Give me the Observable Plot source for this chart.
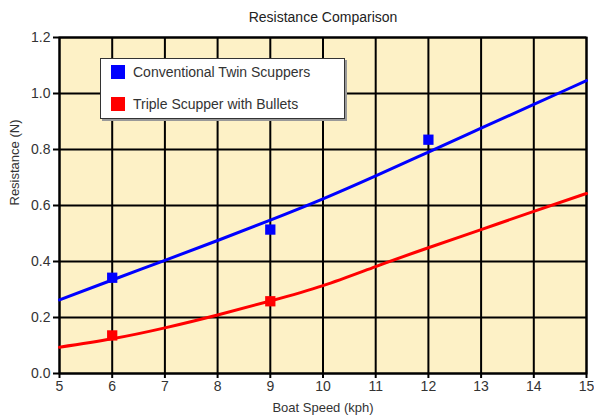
<!DOCTYPE html>
<html>
<head>
<meta charset="utf-8">
<script src="https://cdn.jsdelivr.net/npm/d3@7"></script>
<script src="https://cdn.jsdelivr.net/npm/@observablehq/plot@0.6"></script>
<style>
  html, body { margin: 0; padding: 0; background: #fff; }
  #wrap { position: relative; width: 594px; height: 417px; font-family: "Liberation Sans", Arial, Helvetica, sans-serif; }
  #legend { position: absolute; left: 100px; top: 58px; width: 243px; height: 59px; background: #fff;
            border: 1.5px solid #333; box-shadow: 2px 2px 0 #999; font-size: 14px; color: #333; }
  .row { position: absolute; left: 10px; display: flex; align-items: center; }
  .sw { width: 14px; height: 14px; margin-right: 8px; }
</style>
</head>
<body>
<div id="wrap"></div>
<script>
const title = "Resistance Comparison";
const xLabel = "Boat Speed (kph)";
const yLabel = "Resistance (N)";
const seriesNames = ["Conventional Twin Scuppers", "Triple Scupper with Bullets"];
const seriesColors = ["#0000ff", "#ff0000"];

const xTicks = [5, 6, 7, 8, 9, 10, 11, 12, 13, 14, 15];
const yTicks = [0, 0.2, 0.4, 0.6, 0.8, 1.0, 1.2];

// fitted curves read at each integer speed
const fitSpeeds = [5, 6, 7, 8, 9, 10, 11, 12, 13, 14, 15];
const conventionalFit = [0.263, 0.334, 0.404, 0.475, 0.548, 0.624, 0.706, 0.791, 0.876, 0.961, 1.046];
const tripleFit = [0.094, 0.124, 0.163, 0.209, 0.259, 0.314, 0.382, 0.449, 0.514, 0.579, 0.643];

// measured points
const conventionalSpeeds = [6, 9, 12];
const conventionalValues = [0.342, 0.514, 0.835];
const tripleSpeeds = [6, 9];
const tripleValues = [0.136, 0.258];

const fits = [
  ...fitSpeeds.map((x, i) => ({x, y: conventionalFit[i], s: seriesNames[0]})),
  ...fitSpeeds.map((x, i) => ({x, y: tripleFit[i], s: seriesNames[1]}))
];
const pts = [
  ...conventionalSpeeds.map((x, i) => ({x, y: conventionalValues[i], s: seriesNames[0]})),
  ...tripleSpeeds.map((x, i) => ({x, y: tripleValues[i], s: seriesNames[1]}))
];

const chart = Plot.plot({
  width: 594,
  height: 417,
  marginTop: 37,
  marginBottom: 44,
  marginLeft: 59,
  marginRight: 8,
  style: { fontFamily: '"Liberation Sans", Arial, Helvetica, sans-serif', background: "transparent" },
  x: { domain: [5, 15] },
  y: { domain: [0, 1.2] },
  color: { domain: seriesNames, range: seriesColors },
  marks: [
    Plot.frame({ fill: "#fdf1c6", stroke: null }),
    Plot.gridX(xTicks, { stroke: "#000", strokeOpacity: 1, strokeWidth: 2 }),
    Plot.gridY(yTicks, { stroke: "#000", strokeOpacity: 1, strokeWidth: 2 }),
    Plot.frame({ stroke: "#000", strokeWidth: 2 }),
    Plot.axisX(xTicks, { tickSize: 5, tickPadding: 3, stroke: "#000", strokeWidth: 2, fontSize: 14, color: "#333", label: null, tickFormat: d => String(d) }),
    Plot.axisY(yTicks, { tickSize: 6, tickPadding: 3, stroke: "#000", strokeWidth: 2, fontSize: 14, color: "#333", label: null, tickFormat: d3.format(".1f") }),
    Plot.line(fits, { x: "x", y: "y", z: "s", stroke: "s", strokeWidth: 3, curve: "natural" }),
    Plot.dot(pts, { x: "x", y: "y", fill: "s", symbol: "square", r: 5.8 }),
    Plot.text([title], { frameAnchor: "top", dy: -25, text: d => d, fontSize: 14, fill: "#222" }),
    Plot.text([xLabel], { frameAnchor: "bottom", dy: 38, text: d => d, fontSize: 13, fill: "#333" }),
    Plot.text([yLabel], { frameAnchor: "left", dx: -45, rotate: -90, text: d => d, fontSize: 13, fill: "#333" })
  ]
});

const wrap = document.getElementById("wrap");
wrap.appendChild(chart);

const legend = document.createElement("div");
legend.id = "legend";
seriesNames.forEach((name, i) => {
  const row = document.createElement("div");
  row.className = "row";
  row.style.top = (i === 0 ? 5 : 37) + "px";
  const sw = document.createElement("div");
  sw.className = "sw";
  sw.style.background = seriesColors[i];
  const t = document.createElement("span");
  t.textContent = name;
  row.appendChild(sw);
  row.appendChild(t);
  legend.appendChild(row);
});
wrap.appendChild(legend);
</script>
</body>
</html>
